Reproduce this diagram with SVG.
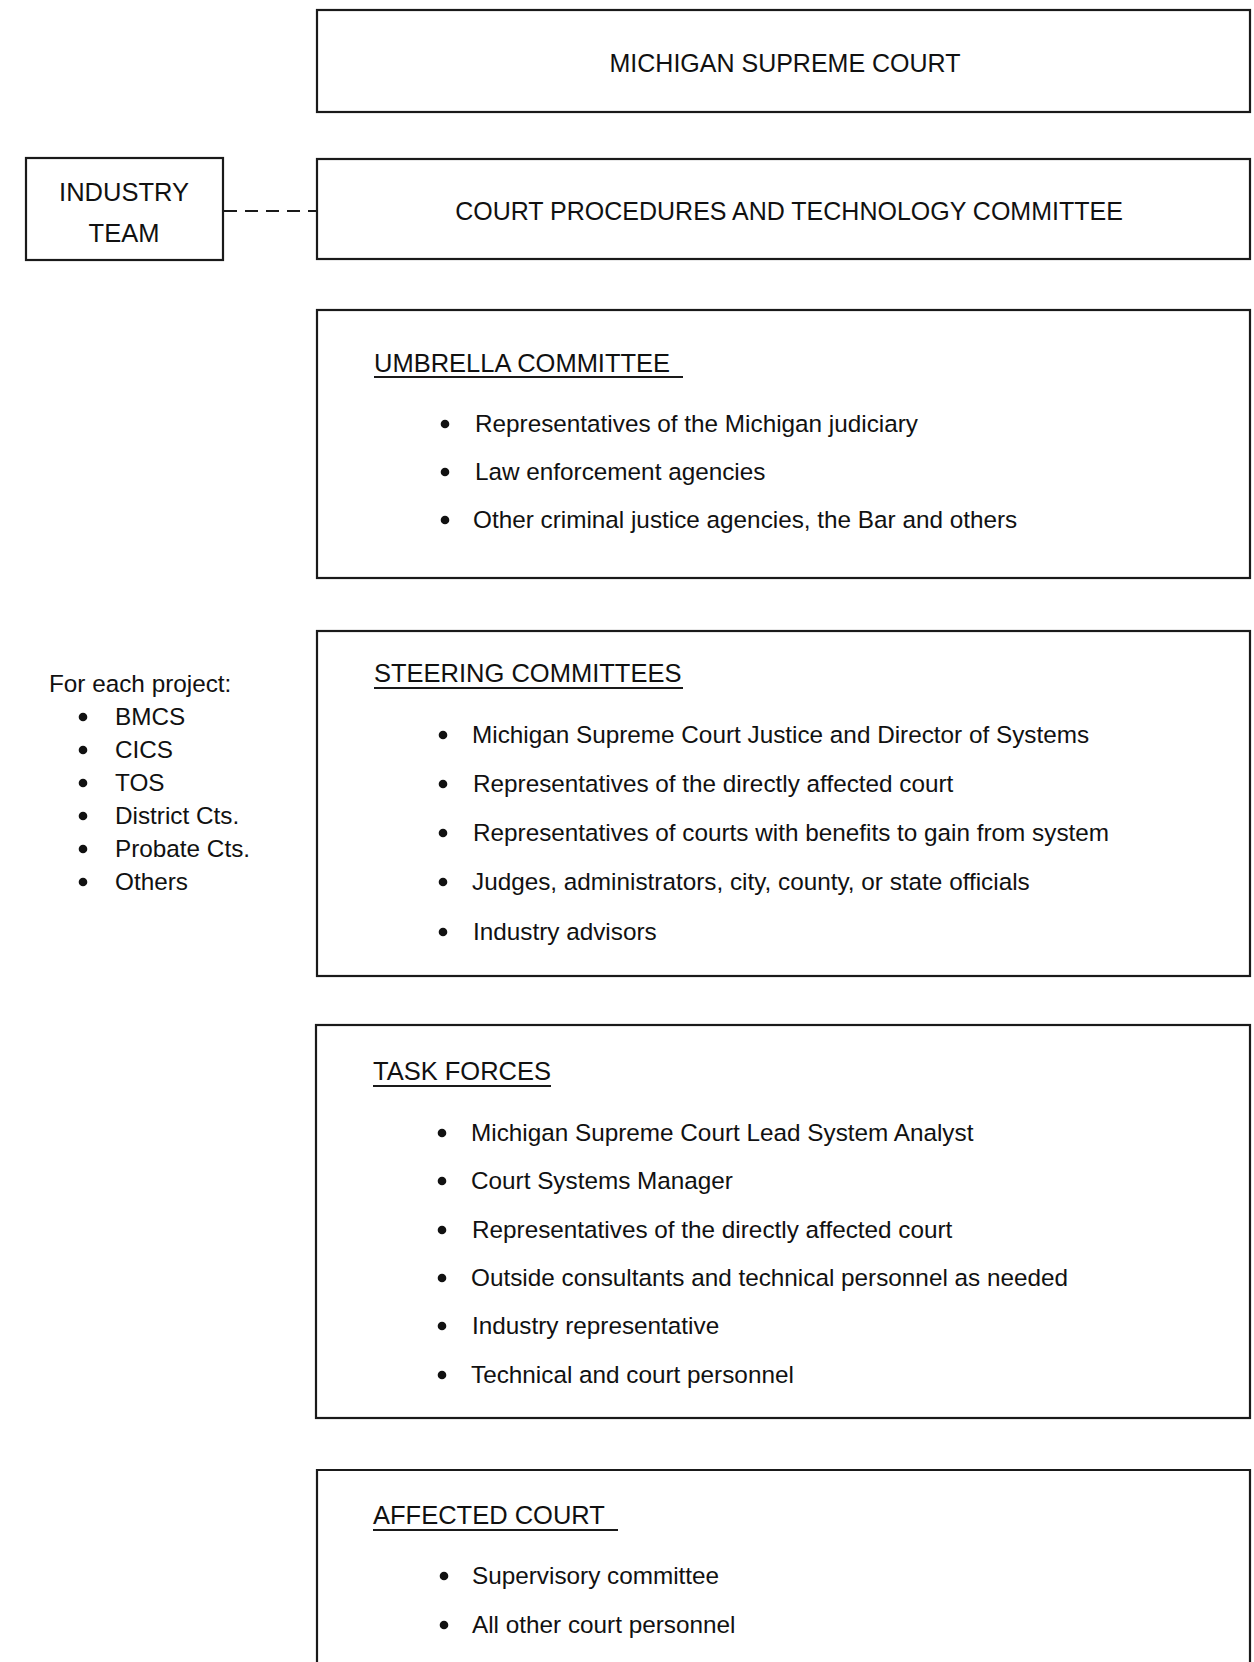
<svg xmlns="http://www.w3.org/2000/svg" width="1254" height="1662" viewBox="0 0 1254 1662">
<style>
.box{fill:none;stroke:#1a1a1a;stroke-width:2.2}
.t{font-family:"Liberation Sans",Arial,sans-serif;font-size:24.3px;fill:#111}
.h{font-size:25.5px}
.big{font-size:25px}
.c{text-anchor:middle}
.ul{stroke:#1a1a1a;stroke-width:1.8}
.dot{fill:#111}
.conn{stroke:#1a1a1a;stroke-width:2;stroke-dasharray:13 8;fill:none}
</style>
<rect width="1254" height="1662" fill="#fff"/>

<g id="supreme-court">
<rect class="box" x="317" y="10" width="933" height="102"/>
<text class="t big c" x="785" y="72">MICHIGAN SUPREME COURT</text>
</g>

<g id="cpt-committee">
<rect class="box" x="317" y="159" width="933" height="100"/>
<text class="t big c" x="789" y="220">COURT PROCEDURES AND TECHNOLOGY COMMITTEE</text>
</g>

<g id="industry-team">
<rect class="box" x="26" y="158" width="197" height="102"/>
<text class="t h c" x="124" y="201">INDUSTRY</text>
<text class="t h c" x="124" y="242">TEAM</text>
</g>

<g id="connectors">
<line class="conn" x1="224" y1="211" x2="317" y2="211"/>
</g>

<g id="umbrella-committee">
<rect class="box" x="317" y="310" width="933" height="268"/>
<text class="t h" x="374" y="372">UMBRELLA COMMITTEE</text>
<line class="ul" x1="374" y1="377" x2="683" y2="377"/>
<circle class="dot" cx="445" cy="424" r="4.3"/>
<text class="t" x="475" y="432">Representatives of the Michigan judiciary</text>
<circle class="dot" cx="445" cy="472" r="4.3"/>
<text class="t" x="475" y="480">Law enforcement agencies</text>
<circle class="dot" cx="445" cy="520" r="4.3"/>
<text class="t" x="473" y="528">Other criminal justice agencies, the Bar and others</text>
</g>

<g id="projects-list">
<text class="t" x="49" y="692">For each project:</text>
<circle class="dot" cx="83" cy="717" r="4.3"/>
<text class="t" x="115" y="725">BMCS</text>
<circle class="dot" cx="83" cy="750" r="4.3"/>
<text class="t" x="115" y="758">CICS</text>
<circle class="dot" cx="83" cy="783" r="4.3"/>
<text class="t" x="115" y="791">TOS</text>
<circle class="dot" cx="83" cy="816" r="4.3"/>
<text class="t" x="115" y="824">District Cts.</text>
<circle class="dot" cx="83" cy="849" r="4.3"/>
<text class="t" x="115" y="857">Probate Cts.</text>
<circle class="dot" cx="83" cy="882" r="4.3"/>
<text class="t" x="115" y="890">Others</text>
</g>

<g id="steering-committees">
<rect class="box" x="317" y="631" width="933" height="345"/>
<text class="t h" x="374" y="682">STEERING COMMITTEES</text>
<line class="ul" x1="374" y1="688" x2="683" y2="688"/>
<circle class="dot" cx="443" cy="735" r="4.3"/>
<text class="t" x="472" y="743">Michigan Supreme Court Justice and Director of Systems</text>
<circle class="dot" cx="443" cy="784" r="4.3"/>
<text class="t" x="473" y="792">Representatives of the directly affected court</text>
<circle class="dot" cx="443" cy="833" r="4.3"/>
<text class="t" x="473" y="841">Representatives of courts with benefits to gain from system</text>
<circle class="dot" cx="443" cy="882" r="4.3"/>
<text class="t" x="472" y="890">Judges, administrators, city, county, or state officials</text>
<circle class="dot" cx="443" cy="932" r="4.3"/>
<text class="t" x="473" y="940">Industry advisors</text>
</g>

<g id="task-forces">
<rect class="box" x="316" y="1025" width="934" height="393"/>
<text class="t h" x="373" y="1080">TASK FORCES</text>
<line class="ul" x1="373" y1="1086" x2="551" y2="1086"/>
<circle class="dot" cx="442" cy="1133" r="4.3"/>
<text class="t" x="471" y="1141">Michigan Supreme Court Lead System Analyst</text>
<circle class="dot" cx="442" cy="1181" r="4.3"/>
<text class="t" x="471" y="1189">Court Systems Manager</text>
<circle class="dot" cx="442" cy="1230" r="4.3"/>
<text class="t" x="472" y="1238">Representatives of the directly affected court</text>
<circle class="dot" cx="442" cy="1278" r="4.3"/>
<text class="t" x="471" y="1286">Outside consultants and technical personnel as needed</text>
<circle class="dot" cx="442" cy="1326" r="4.3"/>
<text class="t" x="472" y="1334">Industry representative</text>
<circle class="dot" cx="442" cy="1375" r="4.3"/>
<text class="t" x="471" y="1383">Technical and court personnel</text>
</g>

<g id="affected-court">
<path class="box" d="M317 1680 V1470 H1250 V1680"/>
<text class="t h" x="373" y="1524">AFFECTED COURT</text>
<line class="ul" x1="373" y1="1530" x2="618" y2="1530"/>
<circle class="dot" cx="444" cy="1576" r="4.3"/>
<text class="t" x="472" y="1584">Supervisory committee</text>
<circle class="dot" cx="444" cy="1625" r="4.3"/>
<text class="t" x="472" y="1633">All other court personnel</text>
</g>
</svg>
